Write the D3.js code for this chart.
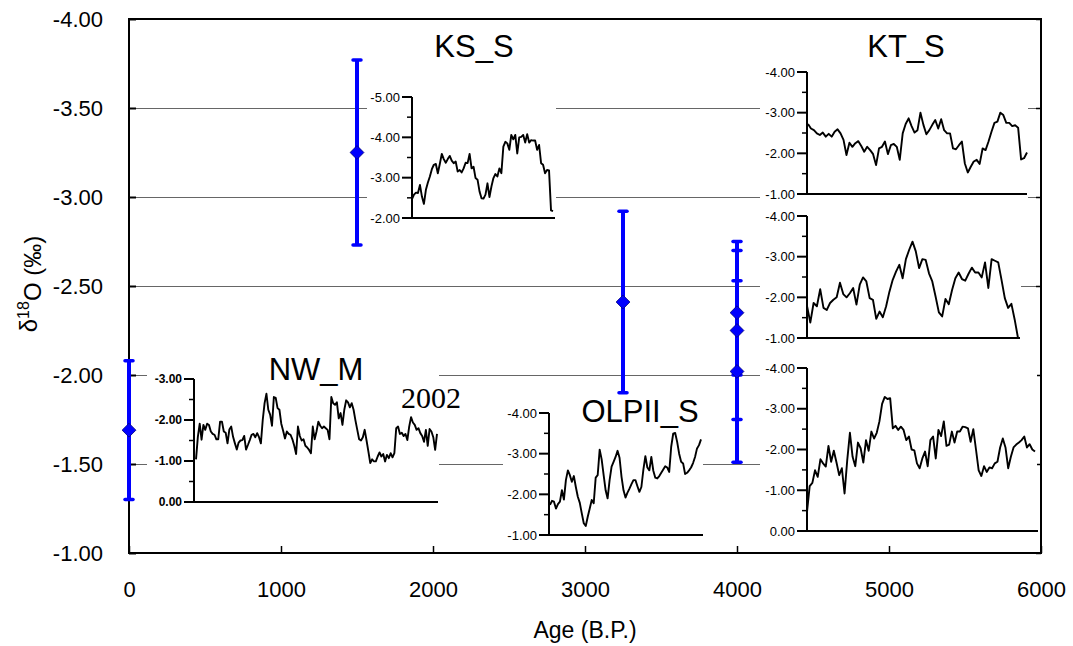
<!DOCTYPE html>
<html>
<head>
<meta charset="utf-8">
<script src="https://cdn.jsdelivr.net/npm/d3@7"></script>
<style>
  body { margin: 0; background: #fff; }
  text { font-family: Arial, "Liberation Sans", sans-serif; }
</style>
</head>
<body>
<div id="chart"></div>
<script>
// Main chart data: site mean d18O with error bars
var ages = [0, 1500, 3250, 4000, 4000, 4000];
var means = [-1.69, -3.25, -2.41, -2.35, -2.25, -2.02];
var errs = [0.39, 0.52, 0.51, 0.35, 0.50, 0.51];
var xTicks = [0, 1000, 2000, 3000, 4000, 5000, 6000];
var yTicks = [-4, -3.5, -3, -2.5, -2, -1.5, -1];

// Inset records
var nwM = [-1.04,-1.59,-1.91,-1.52,-1.88,-1.76,-1.91,-1.88,-1.72,-1.66,-1.64,-1.53,-1.53,-1.96,-1.96,-1.72,-1.69,-1.43,-1.77,-1.84,-1.59,-1.43,-1.28,-1.45,-1.50,-1.51,-1.61,-1.28,-1.39,-1.51,-1.64,-1.66,-1.58,-1.68,-1.58,-1.43,-2.00,-2.41,-2.64,-2.25,-2.13,-1.86,-2.56,-2.54,-2.29,-2.25,-1.91,-1.74,-1.55,-1.72,-1.66,-1.64,-1.53,-1.37,-1.17,-1.84,-1.61,-1.50,-1.53,-1.37,-1.33,-1.27,-1.19,-1.84,-1.53,-1.72,-1.96,-1.86,-1.80,-1.84,-1.80,-1.76,-1.53,-2.56,-2.41,-2.37,-2.43,-2.04,-2.17,-1.88,-2.25,-2.48,-2.43,-2.31,-2.41,-2.25,-1.99,-1.76,-1.53,-1.50,-1.58,-1.76,-1.50,-1.23,-0.95,-1.04,-0.99,-0.99,-1.11,-1.21,-1.11,-1.17,-0.99,-1.15,-1.07,-1.19,-1.09,-1.19,-1.80,-1.84,-1.66,-1.69,-1.61,-1.66,-1.51,-1.84,-2.07,-1.94,-1.88,-1.76,-1.80,-1.68,-1.61,-1.47,-1.76,-1.37,-1.78,-1.72,-1.58,-1.27,-1.66];
var ksS = [-2.47,-2.58,-2.63,-2.62,-2.82,-2.53,-2.35,-2.70,-2.88,-3.03,-3.21,-3.32,-3.34,-3.11,-3.34,-3.59,-3.46,-3.37,-3.46,-3.54,-3.42,-3.36,-3.40,-3.15,-3.19,-3.13,-3.23,-3.37,-3.36,-3.59,-3.23,-3.27,-2.99,-2.95,-2.66,-2.49,-2.48,-2.58,-2.86,-2.52,-2.78,-2.99,-3.09,-3.03,-3.23,-3.11,-3.77,-3.89,-3.85,-3.69,-4.06,-3.95,-4.06,-3.60,-4.00,-4.01,-4.06,-3.87,-4.08,-3.87,-3.93,-3.92,-3.92,-3.69,-3.81,-3.36,-3.32,-3.11,-3.19,-3.18,-2.19,-2.17];
var ktS = [-2.72,-2.61,-2.57,-2.49,-2.45,-2.51,-2.41,-2.48,-2.41,-2.53,-2.59,-2.49,-2.33,-1.96,-2.26,-2.16,-2.25,-2.30,-2.18,-2.04,-2.16,-2.08,-1.98,-1.71,-2.12,-2.16,-2.29,-1.98,-2.20,-2.23,-2.16,-1.84,-2.49,-2.72,-2.86,-2.67,-2.51,-2.57,-3.00,-2.70,-2.47,-2.57,-2.70,-2.82,-2.61,-2.84,-2.57,-2.49,-2.49,-2.12,-2.10,-2.20,-2.29,-1.75,-1.53,-1.67,-1.80,-1.84,-1.74,-2.12,-2.08,-2.29,-2.53,-2.75,-2.78,-3.00,-2.94,-2.75,-2.75,-2.67,-2.69,-2.63,-1.85,-1.88,-2.02];
var ktMid = [-1.79,-1.38,-1.86,-1.78,-2.20,-1.74,-1.69,-1.86,-1.94,-2.00,-2.36,-2.08,-2.00,-2.10,-2.23,-1.82,-2.31,-2.49,-2.39,-1.98,-1.94,-1.47,-1.65,-1.51,-1.78,-2.14,-2.43,-2.63,-2.80,-2.47,-2.94,-3.17,-3.37,-3.13,-2.72,-2.94,-2.92,-2.59,-2.39,-2.02,-1.63,-1.53,-1.96,-1.83,-2.18,-2.47,-2.61,-2.45,-2.41,-2.58,-2.73,-2.61,-2.61,-2.49,-2.86,-2.23,-2.94,-2.90,-2.86,-2.43,-1.98,-1.74,-1.84,-1.45,-1.00];
var ktLow = [-0.47,-1.10,-1.18,-1.49,-1.33,-1.76,-1.66,-1.58,-2.09,-1.70,-1.97,-1.68,-1.37,-1.54,-0.92,-1.74,-2.41,-1.82,-1.59,-2.17,-2.03,-1.68,-2.23,-1.97,-2.44,-2.27,-2.41,-2.69,-3.12,-3.29,-3.24,-3.26,-2.52,-2.58,-2.48,-2.56,-2.48,-2.23,-2.32,-2.00,-1.98,-1.66,-1.54,-1.78,-1.95,-1.59,-2.23,-2.32,-1.78,-2.48,-2.33,-2.69,-2.09,-2.12,-2.44,-2.17,-2.44,-2.44,-2.56,-2.55,-2.52,-2.19,-2.50,-2.00,-1.49,-1.35,-1.59,-1.45,-1.56,-1.54,-1.66,-1.70,-2.05,-2.27,-2.05,-1.54,-1.82,-2.05,-2.12,-2.17,-2.23,-2.32,-2.05,-2.13,-2.00,-1.95];
var olpS = [-1.74,-1.84,-1.82,-1.65,-1.76,-1.82,-2.10,-1.87,-2.35,-2.59,-2.47,-2.31,-2.45,-2.18,-1.94,-1.79,-1.53,-1.29,-1.22,-1.45,-1.65,-1.86,-1.78,-2.41,-2.47,-3.10,-2.86,-2.47,-2.10,-1.90,-2.35,-2.68,-2.80,-2.92,-3.07,-2.90,-2.43,-2.10,-1.92,-2.04,-2.14,-2.25,-2.35,-2.35,-2.20,-2.06,-2.18,-2.61,-2.94,-2.66,-2.59,-2.92,-2.58,-2.41,-2.39,-2.45,-2.53,-2.61,-2.69,-2.66,-2.55,-3.17,-3.49,-3.51,-3.29,-3.00,-2.80,-2.76,-2.50,-2.53,-2.59,-2.66,-2.77,-2.92,-3.13,-3.21,-3.35];

var svgWidth = 1073;
var svgHeight = 646;
var margin = { top: 19, right: 32, bottom: 93, left: 129 };
var width = svgWidth - margin.left - margin.right;
var height = svgHeight - margin.top - margin.bottom;

var svg = d3.select("#chart").append("svg")
    .attr("width", svgWidth)
    .attr("height", svgHeight);

var chartGroup = svg.append("g")
    .attr("transform", `translate(${margin.left}, ${margin.top})`);

var xScale = d3.scaleLinear().domain([0, 6000]).range([0, width]);
var yScale = d3.scaleLinear().domain([-1, -4]).range([height, 0]);

// gridlines
chartGroup.selectAll(".grid")
    .data(yTicks.slice(1, -1))
    .enter().append("line")
    .attr("x1", 0).attr("x2", width)
    .attr("y1", d => yScale(d) + 0.5).attr("y2", d => yScale(d) + 0.5)
    .attr("stroke", "#666").attr("stroke-width", 1);

// insets (page pixel layout)
var insets = [
    { data: nwM, title: "NW_M", bold: true, x0: 194, x1: 438, d0: 196, d1: 437, y0: 502, y1: 379, dom: [0, -3],
      bg: [147, 340, 439, 515], tx: 316, ty: 380 },
    { data: ksS, title: "KS_S", x0: 412, x1: 555, d0: 412, d1: 553, y0: 218, y1: 97, dom: [-2, -5],
      bg: [367, 85, 556, 225], tx: 474, ty: 57 },
    { data: ktS, title: "KT_S", x0: 807, x1: 1027, d0: 808, d1: 1027, y0: 194, y1: 72, dom: [-1, -4],
      bg: [760, 64, 1028, 200], tx: 906, ty: 57 },
    { data: ktMid, title: "", x0: 807, x1: 1020, d0: 807, d1: 1018, y0: 338, y1: 216, dom: [-1, -4],
      bg: [760, 205, 1021, 345] },
    { data: ktLow, title: "", x0: 807, x1: 1038, d0: 807, d1: 1035, y0: 531, y1: 368, dom: [0, -4],
      bg: [760, 358, 1037, 540] },
    { data: olpS, title: "OLPII_S", x0: 549, x1: 703, d0: 550, d1: 701, y0: 535, y1: 413, dom: [-1, -4],
      bg: [503, 395, 703, 545], tx: 640, ty: 422 }
];

insets.forEach(function(ins) {
    var g = svg.append("g");
    g.append("rect")
        .attr("x", ins.bg[0]).attr("y", ins.bg[1])
        .attr("width", ins.bg[2] - ins.bg[0]).attr("height", ins.bg[3] - ins.bg[1])
        .attr("fill", "#fff");

    var ix = d3.scaleLinear().domain([0, ins.data.length - 1]).range([ins.d0, ins.d1]);
    var iy = d3.scaleLinear().domain(ins.dom).range([ins.y0, ins.y1]);

    var majors = d3.range(ins.dom[0], ins.dom[1] - 0.01, -1);
    var minors = d3.range(ins.dom[0] - 0.5, ins.dom[1], -1);

    // axis lines
    g.append("line").attr("x1", ins.x0).attr("x2", ins.x0)
        .attr("y1", iy(ins.dom[0]) + 1).attr("y2", iy(ins.dom[1]))
        .attr("stroke", "#000").attr("stroke-width", 2);
    g.append("line").attr("x1", ins.x0).attr("x2", ins.x1)
        .attr("y1", iy(ins.dom[0])).attr("y2", iy(ins.dom[0]))
        .attr("stroke", "#000").attr("stroke-width", 2);

    g.selectAll(".maj").data(majors).enter().append("line")
        .attr("x1", ins.x0 - 10).attr("x2", ins.x0)
        .attr("y1", d => iy(d)).attr("y2", d => iy(d))
        .attr("stroke", "#000").attr("stroke-width", 2);
    g.selectAll(".min").data(minors).enter().append("line")
        .attr("x1", ins.x0 - 5).attr("x2", ins.x0)
        .attr("y1", d => iy(d)).attr("y2", d => iy(d))
        .attr("stroke", "#000").attr("stroke-width", 1.5);

    g.selectAll(".lab").data(majors).enter().append("text")
        .attr("x", ins.x0 - 12).attr("y", d => iy(d))
        .attr("dy", "0.36em")
        .attr("text-anchor", "end")
        .style("font-size", ins.bold ? "12px" : "13px")
        .style("font-weight", ins.bold ? "bold" : "normal")
        .text(d => d.toFixed(2));

    var line = d3.line().x((d, i) => ix(i)).y(d => iy(d));
    g.append("path").datum(ins.data)
        .attr("d", line)
        .attr("fill", "none").attr("stroke", "#000")
        .attr("stroke-width", 1.9).attr("stroke-linejoin", "round");

    if (ins.title) {
        g.append("text").attr("x", ins.tx).attr("y", ins.ty)
            .attr("text-anchor", "middle")
            .style("font-size", "31px")
            .text(ins.title);
    }
});

// "2002" label
svg.append("text")
    .attr("x", 431).attr("y", 408)
    .attr("text-anchor", "middle")
    .style("font-family", "'Liberation Serif', 'Times New Roman', serif")
    .style("font-size", "30px")
    .text("2002");

// main frame
var frame = chartGroup.append("g");
frame.append("rect").attr("x", 0).attr("y", 0).attr("width", width).attr("height", height)
    .attr("fill", "none").attr("stroke", "#000").attr("stroke-width", 2);

var leftAxis = d3.axisLeft(yScale).tickValues(yTicks).tickSize(-7).tickPadding(26)
    .tickFormat(d => d.toFixed(2));
var yAxis = chartGroup.append("g").call(leftAxis);
yAxis.select(".domain").remove();
yAxis.selectAll("line").attr("stroke-width", 2);
yAxis.selectAll("text").style("font-size", "22px").attr("font-family", null);

var rightAxis = d3.axisRight(yScale).tickValues(yTicks).tickSize(-5).tickFormat("");
var yAxisR = chartGroup.append("g").attr("transform", `translate(${width}, 0)`).call(rightAxis);
yAxisR.select(".domain").remove();
yAxisR.selectAll("line").attr("stroke-width", 1.5);

var bottomAxis = d3.axisBottom(xScale).tickValues(xTicks).tickSize(-7).tickPadding(28)
    .tickFormat(d => String(d));
var xAxis = chartGroup.append("g").attr("transform", `translate(0, ${height})`).call(bottomAxis);
xAxis.select(".domain").remove();
xAxis.selectAll("line").attr("stroke-width", 1.5);
xAxis.selectAll("text").style("font-size", "22px").attr("font-family", null);

// axis titles
svg.append("text")
    .attr("x", margin.left + width / 2).attr("y", 638)
    .attr("text-anchor", "middle")
    .style("font-size", "23px")
    .text("Age (B.P.)");

var yLab = svg.append("text")
    .attr("transform", "translate(37, 284) rotate(-90)")
    .attr("text-anchor", "middle")
    .style("font-size", "24px");
yLab.append("tspan").text("δ");
yLab.append("tspan").attr("dy", "-0.5em").style("font-size", "16px").text("18");
yLab.append("tspan").attr("dy", "0.5em").text("O (‰)");

// error bars
var points = ages.map((a, i) => ({ age: a, mean: means[i], err: errs[i] }));
var bars = chartGroup.append("g");
bars.selectAll(".bar").data(points).enter().append("line")
    .attr("x1", d => xScale(d.age)).attr("x2", d => xScale(d.age))
    .attr("y1", d => yScale(d.mean - d.err)).attr("y2", d => yScale(d.mean + d.err))
    .attr("stroke", "#0000ff").attr("stroke-width", 4);
bars.selectAll(".capT").data(points).enter().append("line")
    .attr("x1", d => xScale(d.age) - 4).attr("x2", d => xScale(d.age) + 4)
    .attr("y1", d => yScale(d.mean - d.err)).attr("y2", d => yScale(d.mean - d.err))
    .attr("stroke", "#0000ff").attr("stroke-width", 3.5).attr("stroke-linecap", "round");
bars.selectAll(".capB").data(points).enter().append("line")
    .attr("x1", d => xScale(d.age) - 4).attr("x2", d => xScale(d.age) + 4)
    .attr("y1", d => yScale(d.mean + d.err)).attr("y2", d => yScale(d.mean + d.err))
    .attr("stroke", "#0000ff").attr("stroke-width", 3.5).attr("stroke-linecap", "round");
bars.selectAll(".pt").data(points).enter().append("path")
    .attr("d", d3.symbol(d3.symbolSquare).size(95))
    .attr("transform", d => `translate(${xScale(d.age)}, ${yScale(d.mean)}) rotate(45)`)
    .attr("fill", "#0000ff").attr("stroke", "#000080").attr("stroke-width", 0.8);
</script>
</body>
</html>
